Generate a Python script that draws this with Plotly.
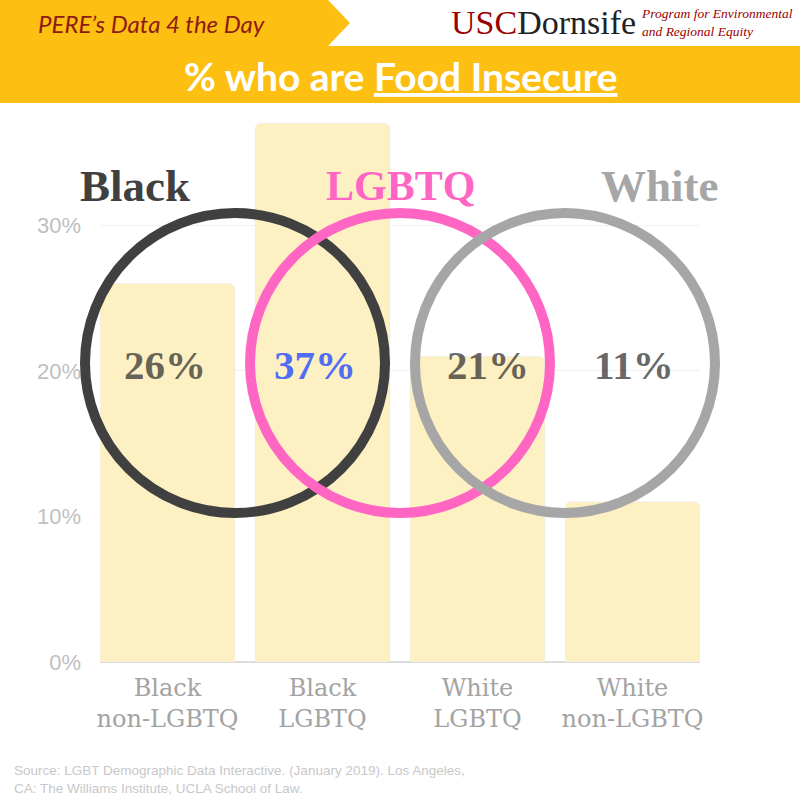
import plotly.graph_objects as go

# ---- data ----
categories = ["Black<br>non-LGBTQ", "Black<br>LGBTQ", "White<br>LGBTQ", "White<br>non-LGBTQ"]
food_insecure_pct = [26, 37, 21, 11]
y_tick_values = [0, 10, 20, 30]
y_tick_labels = ["0%", "10%", "20%", "30%"]
group_labels = ["Black", "LGBTQ", "White"]

title_text = "% who are <u>Food Insecure</u>"
banner_text = "PERE\u2019s Data 4 the Day"
source_text = ("Source: LGBT Demographic Data Interactive. (January 2019). Los Angeles,<br>"
               "CA: The Williams Institute, UCLA School of Law.")

# ---- layout helpers (pixel -> paper) ----
W, H = 800, 800
L, R, T, B = 100, 100, 116, 138
PW, PH = W - L - R, H - T - B


def px(x):
    return (x - L) / PW


def py(y):
    return (H - B - y) / PH


YELLOW = "#FDBF12"
BAR = "#FDF0C2"

fig = go.Figure()
fig.add_trace(go.Bar(
    x=categories, y=food_insecure_pct,
    marker=dict(color=BAR, cornerradius=6),
    width=0.87, hoverinfo="skip",
))

shapes = []
# top banner with arrow
shapes.append(dict(type="path", xref="paper", yref="paper",
                   path=f"M {px(0)},{py(0)} L {px(328)},{py(0)} L {px(350)},{py(23)} "
                        f"L {px(328)},{py(46)} L {px(0)},{py(46)} Z",
                   fillcolor=YELLOW, line=dict(width=0), layer="below"))
# title band
shapes.append(dict(type="rect", xref="paper", yref="paper",
                   x0=px(0), x1=px(800), y0=py(46), y1=py(103),
                   fillcolor=YELLOW, line=dict(width=0), layer="below"))

# venn circles
circle_specs = [(235, "#404040"), (400, "#FF66C4"), (565, "#A6A6A6")]
r = 150
cy = 363
for cx, col in circle_specs:
    shapes.append(dict(type="circle", xref="paper", yref="paper",
                       x0=px(cx - r), x1=px(cx + r), y0=py(cy - r), y1=py(cy + r),
                       line=dict(color=col, width=10), layer="above"))

annotations = []
# banner text
annotations.append(dict(xref="paper", yref="paper", x=px(36), y=py(24), xanchor="left", yanchor="middle",
                        text=f"<i>{banner_text}</i>", showarrow=False,
                        font=dict(family="Lato", size=24, color="#8C1C13")))
annotations.append(dict(xref="paper", yref="paper", x=px(400), y=py(76), xanchor="center", yanchor="middle",
                        text=f"<b>{title_text}</b>", showarrow=False,
                        font=dict(family="Lato", size=39, color="white")))
# logo
annotations.append(dict(xref="paper", yref="paper", x=px(449), y=py(23), xanchor="left", yanchor="middle",
                        text="<span style='color:#990000'>USC</span><span style='color:#222222'>Dornsife</span>",
                        showarrow=False, font=dict(family="Liberation Serif", size=34)))
annotations.append(dict(xref="paper", yref="paper", x=px(639), y=py(23), xanchor="left", yanchor="middle",
                        text="<i>Program for Environmental<br>and Regional Equity</i>", align="left",
                        showarrow=False, font=dict(family="Liberation Serif", size=13.5, color="#990000")))

# group headings
group_colors = ["#404040", "#FF66C4", "#A6A6A6"]
group_x = [135, 400, 660]
group_sizes = [45, 42, 45]
for lab, col, gx, gs in zip(group_labels, group_colors, group_x, group_sizes):
    annotations.append(dict(xref="paper", yref="paper", x=px(gx), y=py(186), xanchor="center", yanchor="middle",
                            text=f"<b>{lab}</b>", showarrow=False,
                            font=dict(family="Liberation Serif", size=gs, color=col)))

# value labels
value_colors = ["rgba(45,45,45,0.72)", "#4F6DF5", "rgba(45,45,45,0.72)", "rgba(45,45,45,0.72)"]
value_xshift = [-3, -8, 10, 1]
for cat, v, col, xs in zip(categories, food_insecure_pct, value_colors, value_xshift):
    annotations.append(dict(xref="x", yref="paper", x=cat, y=py(365), xanchor="center", yanchor="middle",
                            xshift=xs, text=f"<b>{v}%</b>", showarrow=False,
                            font=dict(family="Liberation Serif", size=41, color=col)))

# source
annotations.append(dict(xref="paper", yref="paper", x=px(12), y=py(779), xanchor="left", yanchor="middle",
                        text=source_text, align="left", showarrow=False,
                        font=dict(family="Liberation Sans", size=13.5, color="#C8C8C8")))

fig.update_layout(
    width=W, height=H,
    margin=dict(l=L, r=R, t=T, b=B, pad=0),
    paper_bgcolor="white", plot_bgcolor="white",
    showlegend=False,
    shapes=shapes, annotations=annotations,
    xaxis=dict(range=[-0.4355, 3.4355], showgrid=False, zeroline=False, showline=False,
               ticks="", ticklabelstandoff=9,
               tickfont=dict(family="DejaVu Serif", size=24, color="#A3A3A3"), fixedrange=True),
    yaxis=dict(range=[0, 37.5], tickmode="array", tickvals=y_tick_values, ticktext=y_tick_labels,
               showgrid=True, gridcolor="#F1F1F1", gridwidth=1,
               zeroline=True, zerolinecolor="#DCDCDC", zerolinewidth=2,
               showline=False, ticks="", ticklabelstandoff=18,
               tickfont=dict(family="Liberation Sans", size=22, color="#C0C0C0"), fixedrange=True),
)

fig.write_html("out.html", config={"displayModeBar": False})
